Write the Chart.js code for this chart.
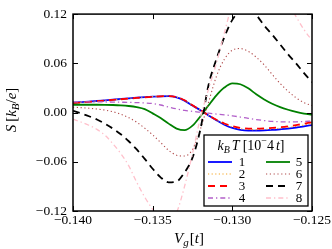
<!DOCTYPE html>
<html>
<head>
<meta charset="utf-8">
<script src="https://cdn.jsdelivr.net/npm/chart.js@4.4.1/dist/chart.umd.min.js"></script>
<style>
html,body{margin:0;padding:0;background:#fff;}
canvas{display:block;}
</style>
</head>
<body>
<canvas id="c" width="332" height="249"></canvas>
<script>
// ---- data ----
const vg = [-0.1400,-0.1395,-0.1390,-0.1385,-0.1380,-0.1375,-0.1370,-0.1365,-0.1360,-0.1355,-0.1350,-0.1345,-0.1340,-0.1335,-0.1330,-0.1325,-0.1320,-0.1315,-0.1310,-0.1305,-0.1300,-0.1295,-0.1290,-0.1285,-0.1280,-0.1275,-0.1270,-0.1265,-0.1260,-0.1255,-0.1250];

const s1 = [0.0120,0.0127,0.0134,0.0141,0.0149,0.0157,0.0165,0.0173,0.0181,0.0188,0.0194,0.0198,0.0199,0.0185,0.0145,0.0085,0.0028,-0.0035,-0.0095,-0.0148,-0.0188,-0.0210,-0.0220,-0.0221,-0.0218,-0.0212,-0.0204,-0.0195,-0.0183,-0.0168,-0.0152];
const s2 = [0.0118,0.0125,0.0132,0.0140,0.0148,0.0156,0.0164,0.0172,0.0180,0.0188,0.0195,0.0200,0.0201,0.0188,0.0148,0.0088,0.0028,-0.0034,-0.0092,-0.0140,-0.0176,-0.0197,-0.0206,-0.0208,-0.0205,-0.0199,-0.0191,-0.0181,-0.0168,-0.0152,-0.0135];
const s3 = [0.0115,0.0122,0.0130,0.0138,0.0146,0.0154,0.0162,0.0170,0.0178,0.0186,0.0193,0.0198,0.0200,0.0190,0.0150,0.0090,0.0028,-0.0033,-0.0088,-0.0133,-0.0166,-0.0186,-0.0195,-0.0197,-0.0194,-0.0188,-0.0180,-0.0168,-0.0153,-0.0136,-0.0118];
const s4 = [0.0130,0.0130,0.0130,0.0130,0.0129,0.0128,0.0126,0.0124,0.0121,0.0117,0.0110,0.0092,0.0068,0.0045,0.0026,0.0014,0.0004,-0.0008,-0.0018,-0.0028,-0.0040,-0.0055,-0.0070,-0.0085,-0.0098,-0.0108,-0.0113,-0.0115,-0.0113,-0.0109,-0.0104];
const s5 = [0.0095,0.0095,0.0095,0.0095,0.0094,0.0092,0.0088,0.0080,0.0066,0.0042,-0.0010,-0.0065,-0.0135,-0.0195,-0.0215,-0.0160,-0.0045,0.0085,0.0210,0.0305,0.0355,0.0345,0.0295,0.0222,0.0160,0.0108,0.0066,0.0034,0.0008,-0.0012,-0.0025];
const s6 = [0.0065,0.0060,0.0053,0.0043,0.0030,0.0010,-0.0020,-0.0062,-0.0118,-0.0190,-0.0272,-0.0365,-0.0460,-0.0520,-0.0530,-0.0450,-0.0200,0.0120,0.0440,0.0650,0.0760,0.0780,0.0745,0.0675,0.0580,0.0465,0.0355,0.0260,0.0180,0.0120,0.0085];
const s7 = [0.0020,-0.0010,-0.0045,-0.0085,-0.0135,-0.0195,-0.0265,-0.0350,-0.0450,-0.0565,-0.0685,-0.0790,-0.0850,-0.0840,-0.0730,-0.0550,-0.0200,0.0330,0.0650,0.0920,0.1130,0.1240,0.1260,0.1190,0.1060,0.0950,0.0830,0.0710,0.0600,0.0480,0.0370];
const s8 = [-0.0080,-0.0115,-0.0155,-0.0205,-0.0275,-0.0380,-0.0500,-0.0650,-0.0850,-0.1030,-0.1180,-0.1300,-0.1340,-0.1220,-0.0900,-0.0500,-0.0060,0.0280,0.0600,0.0970,0.1330,0.1580,0.1700,0.1750,0.1730,0.1650,0.1510,0.1340,0.1170,0.1010,0.0880];

const seriesLabels = ['1','2','3','4','5','6','7','8'];
const xTicks = [-0.140,-0.135,-0.130,-0.125];
const yTicks = [-0.12,-0.06,0.00,0.06,0.12];

// ---- styles ----
const allSeries = [s1,s2,s3,s4,s5,s6,s7,s8];
const styles = [
  {c:'#0000ff', w:1.8, d:[]},
  {c:'#f5a623', w:1.1, d:[1.2,2.4]},
  {c:'#ff0000', w:1.8, d:[7,5]},
  {c:'#b25fc9', w:1.3, d:[5,3,1.3,3]},
  {c:'#008000', w:1.8, d:[]},
  {c:'#b04a4a', w:1.1, d:[1.2,2.6]},
  {c:'#000000', w:1.8, d:[7,5]},
  {c:'#ffc0cb', w:1.3, d:[5,3,1.3,3]}
];
const SERIF = '"Liberation Serif", "DejaVu Serif", serif';

function fmt(v, n){ return v.toFixed(n).replace('-', '\u2212'); }

function drawRich(ctx, parts, x, y, align){
  let total = 0;
  parts.forEach(p => { ctx.font = p.f; p.w = ctx.measureText(p.t).width; total += p.w + (p.sp||0); });
  let cx = align === 'center' ? x - total/2 : x;
  ctx.textBaseline = 'alphabetic';
  ctx.textAlign = 'left';
  parts.forEach(p => { ctx.font = p.f; ctx.fillText(p.t, cx, y + (p.dy||0)); cx += p.w + (p.sp||0); });
}

const I = s => 'italic ' + s + 'px ' + SERIF;
const N = s => s + 'px ' + SERIF;

const decor = {
  id:'decor',
  afterDatasetsDraw(chart){
    const ctx = chart.ctx, a = chart.chartArea;
    const xs = chart.scales.x, ys = chart.scales.y;
    ctx.save();
    ctx.strokeStyle = '#000';
    ctx.setLineDash([]);
    ctx.lineWidth = 1.5;
    ctx.strokeRect(a.left, a.top, a.right - a.left, a.bottom - a.top);
    ctx.lineWidth = 1;
    const tl = 5;
    xTicks.forEach(v => {
      const px = Math.round(xs.getPixelForValue(v)) + 0.5;
      ctx.beginPath();
      ctx.moveTo(px, a.bottom); ctx.lineTo(px, a.bottom - tl);
      ctx.moveTo(px, a.top); ctx.lineTo(px, a.top + tl);
      ctx.stroke();
    });
    yTicks.forEach(v => {
      const py = Math.round(ys.getPixelForValue(v)) + 0.5;
      ctx.beginPath();
      ctx.moveTo(a.left, py); ctx.lineTo(a.left + tl, py);
      ctx.moveTo(a.right, py); ctx.lineTo(a.right - tl, py);
      ctx.stroke();
    });

    // legend
    const L = 204, T = 135, R = 308, B = 206;
    ctx.fillStyle = '#fff';
    ctx.fillRect(L, T, R - L, B - T);
    ctx.strokeStyle = '#000';
    ctx.lineWidth = 1.3;
    ctx.strokeRect(L, T, R - L, B - T);
    ctx.fillStyle = '#000';
    drawRich(ctx, [
      {t:'k', f:I(14)}, {t:'B', f:I(10), dy:3, sp:2}, {t:'T', f:I(14), sp:3},
      {t:'[10', f:N(14)}, {t:'\u2212', f:N(10), dy:-6}, {t:'4', f:N(14), sp:2},
      {t:'t', f:I(14)}, {t:']', f:N(14)}
    ], 251, 150, 'center');
    const rows = [162, 174, 186, 198];
    for (let k = 0; k < 8; k++){
      const col = Math.floor(k / 4), r = k % 4;
      const x0 = col ? 266 : 208, x1 = col ? 290 : 232, lx = col ? 299 : 242;
      const y = rows[r];
      const st = styles[k];
      ctx.strokeStyle = st.c; ctx.lineWidth = st.w; ctx.setLineDash(st.d);
      ctx.beginPath(); ctx.moveTo(x0, y); ctx.lineTo(x1, y); ctx.stroke();
      ctx.setLineDash([]);
      ctx.fillStyle = '#000';
      ctx.font = N(13); ctx.textAlign = 'center'; ctx.textBaseline = 'middle';
      ctx.fillText(seriesLabels[k], lx, y + 1);
    }

    // axis titles
    ctx.fillStyle = '#000';
    drawRich(ctx, [
      {t:'V', f:I(15)}, {t:'g', f:I(11), dy:3, sp:1}, {t:'[', f:N(15)}, {t:'t', f:I(15)}, {t:']', f:N(15)}
    ], 189, 243, 'center');
    ctx.save();
    ctx.translate(16, 110);
    ctx.rotate(-Math.PI/2);
    drawRich(ctx, [
      {t:'S', f:I(15), sp:3}, {t:'[', f:N(15)}, {t:'k', f:I(15)}, {t:'B', f:I(11), dy:3}, {t:'/', f:N(15)}, {t:'e', f:I(15)}, {t:']', f:N(15)}
    ], 0, 0, 'center');
    ctx.restore();
    ctx.restore();
  }
};

const datasets = allSeries.map((s, k) => ({
  label: seriesLabels[k],
  data: vg.map((x, i) => ({x: x, y: s[i]})),
  borderColor: styles[k].c,
  borderWidth: styles[k].w,
  borderDash: styles[k].d,
  pointRadius: 0,
  fill: false,
  cubicInterpolationMode: 'monotone',
  order: 8 - k
}));

new Chart(document.getElementById('c').getContext('2d'), {
  type: 'line',
  data: { datasets },
  options: {
    responsive: false,
    animation: false,
    devicePixelRatio: 1,
    layout: { padding: { left: 0, right: 20, top: 10, bottom: 0 } },
    plugins: { legend: { display: false }, tooltip: { enabled: false } },
    scales: {
      x: {
        type: 'linear', min: -0.140, max: -0.125,
        afterBuildTicks: s => { s.ticks = xTicks.map(v => ({value: v})); },
        afterFit: s => { s.height = 38; },
        ticks: { callback: v => fmt(v, 3), color: '#000', font: { family: SERIF, size: 13.5 }, padding: 1, maxRotation: 0, autoSkip: false },
        grid: { display: false, drawTicks: false },
        border: { display: false }
      },
      y: {
        min: -0.12, max: 0.12,
        afterBuildTicks: s => { s.ticks = yTicks.map(v => ({value: v})); },
        afterFit: s => { s.width = 73; },
        ticks: { callback: v => fmt(v, 2), color: '#000', font: { family: SERIF, size: 13.5 }, padding: 6, autoSkip: false },
        grid: { display: false, drawTicks: false },
        border: { display: false }
      }
    }
  },
  plugins: [decor]
});
</script>
</body>
</html>
